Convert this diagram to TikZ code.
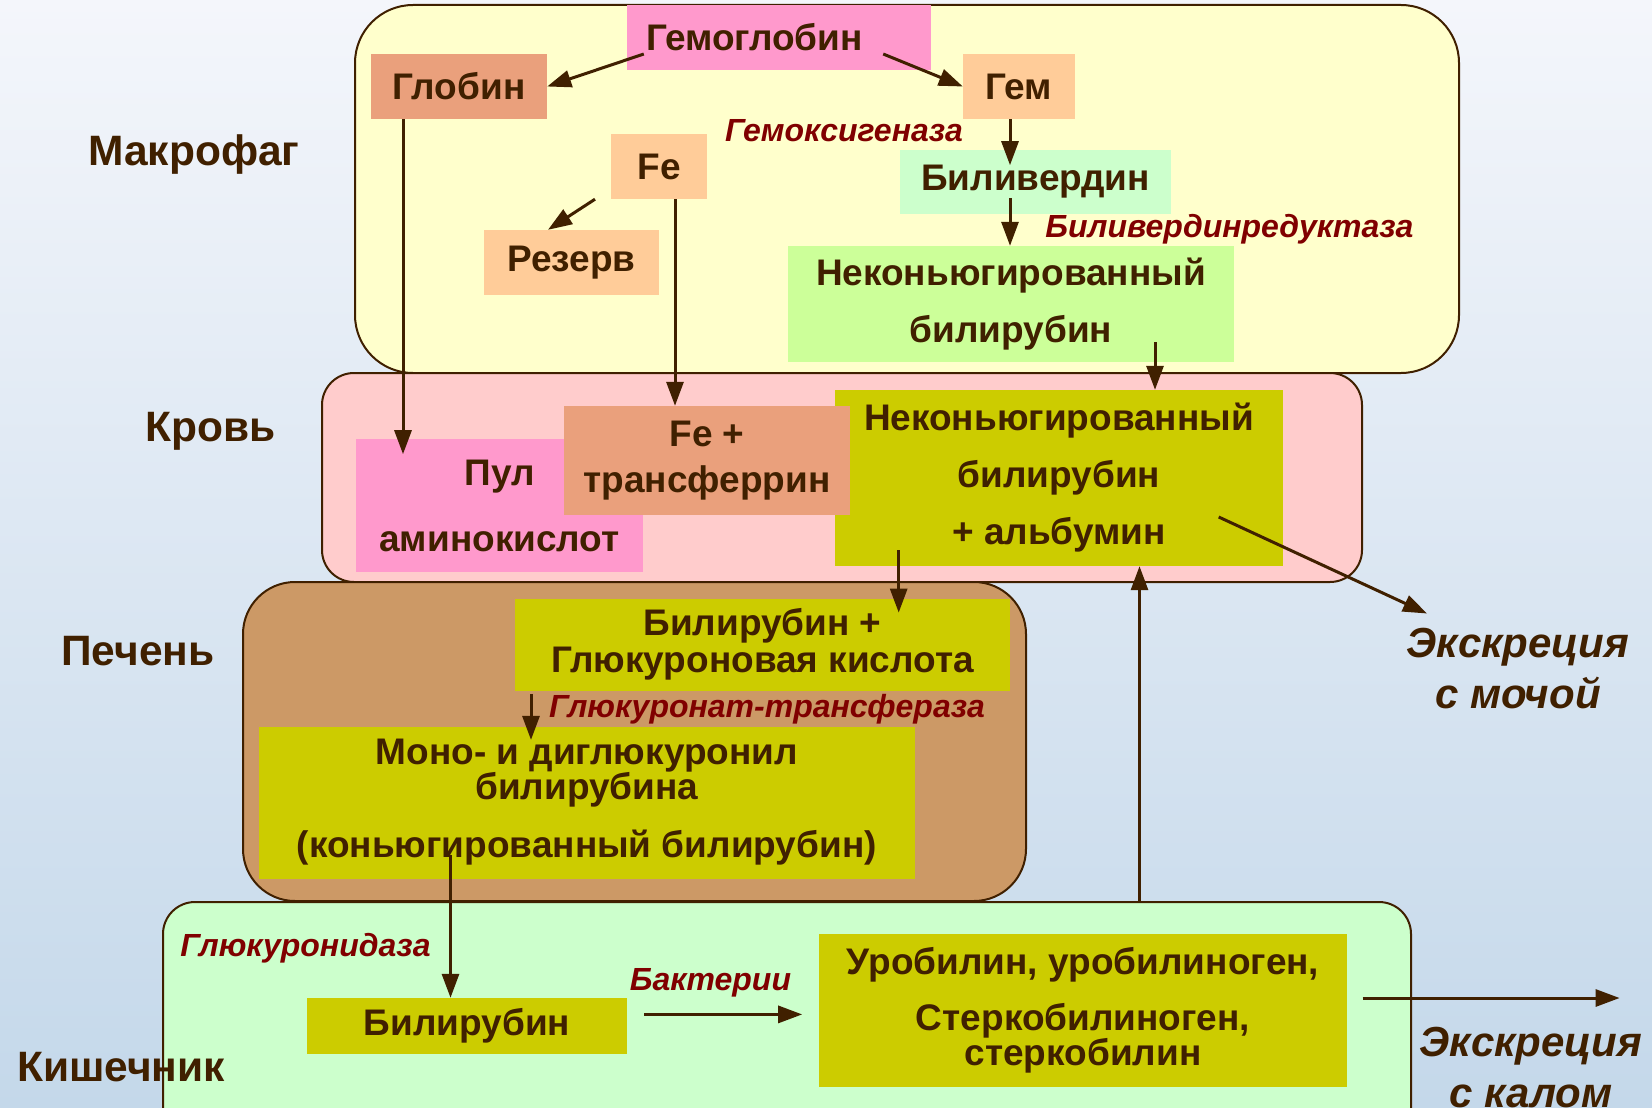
\documentclass[tikz,border=0pt]{standalone}
\usepackage{fontspec}
\setmainfont{Liberation Sans}
\usepackage{xcolor}
\usepackage{tikz}
\usetikzlibrary{arrows.meta,positioning}
\definecolor{ink}{HTML}{402000}
\definecolor{enzred}{HTML}{800000}
\definecolor{bgtop}{HTML}{F4F6FB}
\definecolor{bgbot}{HTML}{C4D8EA}
\definecolor{macrofill}{HTML}{FFFFCC}
\definecolor{bloodfill}{HTML}{FFCCCC}
\definecolor{liverfill}{HTML}{CC9966}
\definecolor{gutfill}{HTML}{CCFFCC}
\definecolor{pinkbox}{HTML}{FF99CC}
\definecolor{salmonbox}{HTML}{EAA07C}
\definecolor{peachbox}{HTML}{FFCC99}
\definecolor{mintbox}{HTML}{CCFFCC}
\definecolor{limebox}{HTML}{CCFF99}
\definecolor{olivebox}{HTML}{CCCC00}
\tikzset{
  zone/.style={draw=ink,line width=2pt,inner sep=0pt},
  bx/.style={inner sep=0pt,align=center,text=ink,font=\fontsize{37}{37}\selectfont\bfseries},
  zlab/.style={text=ink,anchor=base,font=\fontsize{42.5}{42.5}\selectfont\bfseries},
  enz/.style={text=enzred,anchor=base,font=\fontsize{32}{32}\selectfont\bfseries\itshape},
  exc/.style={text=ink,align=center,inner sep=0pt,anchor=north,font=\fontsize{42}{51}\selectfont\bfseries\itshape},
  ar/.style={-{Triangle[length=24pt,width=17pt]},line width=3pt,draw=ink}
}
\begin{document}
\begin{tikzpicture}[x=1pt,y=-1pt]
\useasboundingbox (0,0) rectangle (1652,1108);
\clip (0,0) rectangle (1652,1108);
\shade[shading angle=45,top color=bgtop,bottom color=bgbot] (0,0) rectangle (1652,1108);
\node[zone,fill=macrofill,rounded corners=58pt,minimum width=1104pt,minimum height=368pt] (macro) at (907,189) {};
\node[zone,fill=bloodfill,rounded corners=32pt,minimum width=1040pt,minimum height=209pt] (blood) at (842,477.5) {};
\node[zone,fill=liverfill,rounded corners=52pt,minimum width=783pt,minimum height=319pt] (liver) at (634.5,741.5) {};
\node[zone,fill=gutfill,rounded corners=32pt,minimum width=1248pt,minimum height=238pt] (gut) at (787,1021) {};
\node[zlab] (lmacro) at (194,165) {Макрофаг};
\node[zlab] (lblood) at (211,441) {Кровь};
\node[zlab] (lliver) at (138,665) {Печень};
\node[bx,fill=pinkbox,minimum width=304pt,minimum height=65pt] (hgb) at (779,37.5) {\makebox[266pt][l]{Гемоглобин}};
\node[bx,fill=salmonbox,minimum width=176pt,minimum height=65pt] (globin) at (459,86.5) {Глобин};
\node[bx,fill=peachbox,minimum width=112pt,minimum height=65pt] (heme) at (1019,86.5) {Гем};
\node[bx,fill=peachbox,minimum width=96pt,minimum height=65pt] (fe) at (659,166.5) {Fe};
\node[bx,fill=peachbox,minimum width=175pt,minimum height=65pt] (reserve) at (571.5,262.5) {Резерв};
\node[bx,fill=mintbox,minimum width=271pt,minimum height=64pt] (biliverdin) at (1035.5,182) {Биливердин};
\node[bx,fill=limebox,minimum width=446pt,minimum height=116pt] (ubil) at (1011,304) {Неконьюгированный\\[20pt]билирубин};
\node[bx,fill=pinkbox,minimum width=287pt,minimum height=133pt] (pool) at (499.5,505.5) {Пул\\[29pt]аминокислот};
\node[bx,fill=olivebox,minimum width=448pt,minimum height=176pt] (ubalb) at (1059,478) {Неконьюгированный\\[20pt]билирубин\\[20pt]+ альбумин};
\node[bx,fill=salmonbox,minimum width=286pt,minimum height=109pt] (fetr) at (707,460.5) {Fe +\\[9pt]трансферрин};
\node[bx,fill=olivebox,minimum width=495pt,minimum height=92pt] (bglu) at (762.5,644.5) {Билирубин +\\Глюкуроновая кислота};
\node[bx,fill=olivebox,minimum width=655.5pt,minimum height=152pt] (mono) at (586.75,802.6) {Моно- и диглюкуронил\\[-2pt]билирубина\\[21pt](коньюгированный билирубин)};
\node[bx,fill=olivebox,minimum width=320pt,minimum height=56pt] (bilint) at (467,1026) {Билирубин};
\node[bx,fill=olivebox,minimum width=528pt,minimum height=153pt] (uro) at (1083,1010.3) {Уробилин, уробилиноген,\\[19pt]Стеркобилиноген,\\[-2pt]стеркобилин};
\node[enz] (hox) at (844,141) {Гемоксигеназа};
\node[enz] (bvr) at (1229.5,237.5) {Биливердинредуктаза};
\node[enz] (ugt) at (767,717.3) {Глюкуронат-трансфераза};
\node[enz] (gus) at (305.5,956.7) {Глюкуронидаза};
\node[enz] (bact) at (710.5,990) {Бактерии};
\node[exc] (urine) at (1518,628) {Экскреция\\с мочой};
\node[exc] (feces) at (1531,1027) {Экскреция\\с калом};
\node[zlab] (lgut) at (121,1081) {Кишечник};
\draw[ar] ([xshift=17pt,yshift=-16.5pt]hgb.west) -- (globin.east);
\draw[ar] ([xshift=-48pt,yshift=-16.5pt]hgb.east) -- (heme.west);
\draw[ar] ([xshift=-56pt]globin.south) -- ++(0,335);
\draw[ar] ([xshift=-64pt]fe.south) -- ([xshift=-23.5pt]reserve.north);
\draw[ar] ([xshift=16pt]fe.south) -- ([xshift=-32pt]fetr.north);
\draw[ar] ([xshift=-9pt]heme.south) -- ++(0,46);
\draw[ar] ([xshift=-25.5pt,yshift=16pt]biliverdin.south) -- ([xshift=-1pt]ubil.north);
\draw[ar] ([xshift=144pt,yshift=20pt]ubil.south) -- ([xshift=96pt]ubalb.north);
\draw[ar] ([xshift=-160.3pt,yshift=16pt]ubalb.south) -- ++(0,62.4);
\draw[ar] ([xshift=-231.5pt,yshift=-3.2pt]bglu.south) -- ++(0,46);
\draw[ar] ([xshift=-136.25pt,yshift=23.5pt]mono.south) -- ([xshift=-16.5pt]bilint.north);
\draw[ar] ([xshift=17pt,yshift=11.6pt]bilint.east) -- ++(158,0);
\draw[ar] ([xshift=352.5pt]gut.north) -- ([xshift=80.5pt]ubalb.south);
\draw[ar] ([xshift=-64.5pt,yshift=-39pt]ubalb.east) -- ([xshift=-91pt,yshift=14.5pt]urine.north);
\draw[ar] ([xshift=15.4pt,yshift=12.3pt]uro.east) -- ++(257,0);
\end{tikzpicture}
\end{document}
